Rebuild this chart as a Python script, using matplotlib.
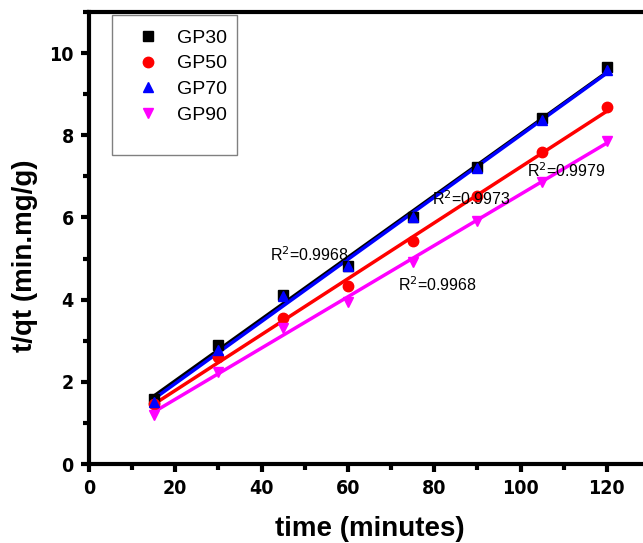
import numpy as np
import matplotlib
matplotlib.use("Agg")
import matplotlib.pyplot as plt
from matplotlib.ticker import MultipleLocator
from matplotlib import font_manager as fm
from matplotlib.patches import Rectangle

time = [15, 30, 45, 60, 75, 90, 105, 120]
gp30 = [1.58, 2.90, 4.12, 4.82, 6.02, 7.22, 8.42, 9.65]
gp50 = [1.45, 2.60, 3.55, 4.33, 5.42, 6.52, 7.60, 8.68]
gp70 = [1.50, 2.78, 4.10, 4.82, 6.00, 7.20, 8.38, 9.60]
gp90 = [1.20, 2.25, 3.32, 3.95, 4.92, 5.92, 6.87, 7.87]
labels = ["GP30", "GP50", "GP70", "GP90"]
r2_texts = ["R$^2$=0.9968", "R$^2$=0.9973", "R$^2$=0.9968", "R$^2$=0.9979"]
r2_pos = [(42, 4.95), (79.5, 6.3), (71.5, 4.22), (101.5, 6.98)]

# condensed bold font for tick labels if available
tick_fp = None
for f in fm.fontManager.ttflist:
    fn = f.fname.lower()
    if ("narrow" in fn or "condensed" in fn) and "bold" in fn and "oblique" not in fn and "italic" not in fn:
        if "liberation" in fn:
            tick_fp = fm.FontProperties(fname=f.fname, size=15)
            break
if tick_fp is None:
    for f in fm.fontManager.ttflist:
        fn = f.fname.lower()
        if "dejavusanscondensed-bold." in fn:
            tick_fp = fm.FontProperties(fname=f.fname, size=14)
            break
if tick_fp is None:
    tick_fp = fm.FontProperties(family="Liberation Sans", weight="bold", size=14)

fig = plt.figure(figsize=(6.43, 5.43), dpi=100)
ax = fig.add_axes([89/643, 1-464/543, (650-89)/643, (464-12)/543])

series = [gp30, gp50, gp70, gp90]
colors = ["black", "red", "blue", "magenta"]
markers = ["s", "o", "^", "v"]
t = np.array(time)
handles = []
for ys, c, m, lab in zip(series, colors, markers, labels):
    h, = ax.plot(time, ys, linestyle="none", marker=m, color=c, markersize=7.5, label=lab, zorder=3)
    handles.append(h)
for ys, c in zip([gp30, gp50, gp90, gp70], ["black", "red", "magenta", "blue"]):
    k, b = np.polyfit(t, ys, 1)
    ax.plot([t[0], t[-1]], [k*t[0]+b, k*t[-1]+b], color=c, lw=2.5, zorder=2)

for txt, (x, y) in zip(r2_texts, r2_pos):
    ax.text(x, y, txt, fontsize=11.5, family="Liberation Sans", ha="left", va="baseline")

ax.set_xlim(0, 130)
ax.set_ylim(0, 11)
ax.xaxis.set_major_locator(MultipleLocator(20))
ax.xaxis.set_minor_locator(MultipleLocator(10))
ax.yaxis.set_major_locator(MultipleLocator(2))
ax.yaxis.set_minor_locator(MultipleLocator(1))
for s in ax.spines.values():
    s.set_linewidth(3)
ax.tick_params(which="major", direction="out", length=6, width=3, pad=5)
ax.tick_params(which="minor", direction="out", length=4, width=3)
for lbl in ax.get_xticklabels() + ax.get_yticklabels():
    lbl.set_fontproperties(tick_fp)

ax.set_xlabel("time (minutes)", fontsize=20, fontweight="bold", family="Liberation Sans", labelpad=13)
ax.set_ylabel("t/qt (min.mg/g)", fontsize=20, fontweight="bold", family="Liberation Sans")
ax.yaxis.set_label_coords((38 - 89) / 561, 0.46)

# legend frame (taller than entries, as in reference)
fig.patches.append(Rectangle((112/643, 1-155/543), 125/643, 140/543, transform=fig.transFigure,
                             fill=True, facecolor="white", edgecolor="gray", lw=1, zorder=5))
leg = fig.legend(handles=handles, loc="upper left", bbox_to_anchor=(134/643, 1-29/543), frameon=False,
                 prop={"family": "Liberation Sans", "size": 14}, handletextpad=0.8,
                 borderpad=0, labelspacing=0.42, handlelength=1.4, borderaxespad=0, markerscale=1.0)
leg.set_zorder(6)

fig.savefig("out.png", dpi=100)
